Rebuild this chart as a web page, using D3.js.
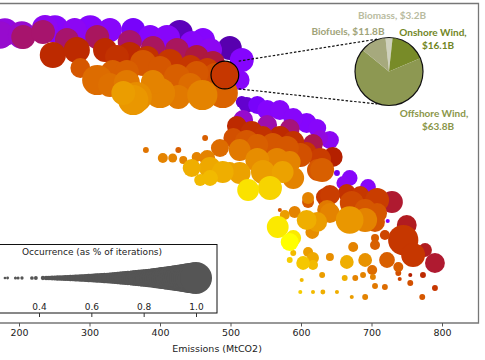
<!DOCTYPE html>
<html><head><meta charset="utf-8">
<script src="https://cdn.jsdelivr.net/npm/d3@7"></script>
<style>body{margin:0;background:#fff;} svg{display:block}</style>
</head><body><svg id="c" width="485" height="360"></svg>
<script>
// ---- data ----
const emissions = [173,180,204,237,251,279,301,329,206,234,268,311,248,282,322,339,287,311,333,348,
362,428,461,499,516,386,410,445,471,357,390,424,452,475,357,382,414,443,467,353,376,400,424,452,478,489,
353,367,400,426,460,390,362,443,516,523,538,552,570,589,608,623,627,518,552,584,617,509,530,546,570,589,
608,627,504,523,538,560,580,599,624,464,485,467,513,538,566,584,471,489,513,546,574,589,525,556,610,634,
380,426,404,418,433,452,445,457,471,499,570,567,577,645,630,651,669,660,695,641,729,641,665,684,708,672,
691,708,637,669,691,705,610,608,623,591,723,750,745,719,705,705,674,776,790,589,584,589,610,617,603,617,
584,641,665,691,701,702,722,759,738,738,755,773,755,740,790,772,630,662,677,688,601,631,651,617,599,672,
691,705,719,616,641,513,329];
const costIndex = [288,291,288,295,294,293,294,293,286,291,283,286,268,273,273,266,255,243,251,230,
293,290,283,275,263,286,285,280,273,281,275,273,266,260,268,265,261,256,253,251,260,255,246,250,248,230,
240,226,230,226,228,241,223,238,221,218,218,213,213,205,200,195,185,203,198,194,179,197,191,187,186,181,
171,164,185,181,178,178,175,168,153,185,175,165,173,163,163,161,155,151,150,151,151,145,133,135,121,126,
173,173,165,165,163,166,155,143,145,153,113,96,108,166,153,150,145,140,136,183,121,128,130,128,123,120,
113,110,113,103,103,101,125,103,101,111,102,98,83,88,85,78,76,73,60,85,81,70,71,65,60,58,
63,66,61,63,53,46,63,68,56,50,48,48,40,44,35,26,48,45,45,48,43,31,31,31,31,26,
26,37,36,91,110,243,238];
const occurrence = [.95,.95,.95,.93,.95,.90,.95,.90,.90,.90,.90,.90,.93,.93,.90,.90,.84,.98,.90,.90,
.90,.93,.90,.90,.90,.90,.93,.90,.90,.90,.90,.90,.90,.90,.93,.90,.93,.90,.90,.90,.93,.90,.93,.90,.90,.98,
.93,.98,.98,.90,.98,.90,.98,.90,.69,.77,.81,.84,.84,.84,.84,.81,.77,.84,.84,.84,.84,.84,.87,.84,.87,.87,
.84,.87,.84,.90,.87,.90,.90,.90,.87,.50,.81,.77,.87,.90,.90,.87,.87,.87,.87,.90,.87,.87,.87,.90,.69,.81,
.50,.50,.64,.61,.58,.64,.81,.69,.77,.77,.40,.87,.64,.84,.90,.50,.77,.73,.77,.81,.87,.84,.81,.81,.90,.90,
.87,.84,.84,.95,.90,.84,.69,.84,.84,.69,.40,.84,.98,.64,.58,.64,.64,.73,.84,.77,.81,.50,.64,.69,.73,.64,
.50,.58,.73,.73,.64,.50,.77,.90,.64,.50,.40,.50,.50,.40,.50,.50,.50,.50,.50,.50,.40,.45,.40,.40,.40,.40,
.50,.50,.50,.73,.84,.84,.90];
const colorValue = [.35,.33,.35,.30,.28,.30,.27,.28,.43,.43,.43,.44,.55,.55,.55,.58,.70,.75,.72,.85,
.22,.13,.27,.12,.27,.27,.28,.28,.30,.43,.44,.44,.46,.46,.55,.58,.60,.60,.62,.72,.70,.70,.72,.70,.68,.73,
.78,.82,.80,.78,.80,.80,.84,.75,.15,.15,.22,.27,.28,.28,.27,.28,.33,.35,.38,.42,.45,.55,.57,.58,.55,.58,
.60,.62,.68,.70,.72,.70,.70,.68,.70,.72,.75,.80,.78,.82,.80,.80,.87,.88,.86,.85,.86,.80,.96,.94,.70,.60,
.77,.72,.80,.80,.80,.80,.88,.90,.90,.86,.70,.97,.85,.50,.72,.20,.28,.30,.28,.30,.47,.62,.58,.60,.62,.66,
.70,.70,.78,.84,.80,.70,.80,.88,.85,.80,.25,.48,.60,.65,.72,.72,.80,.48,.47,.97,1.0,.90,.85,.87,.92,.90,
.93,.82,.88,.83,.75,.80,.72,.60,.72,.68,.50,.55,.68,.65,.60,.70,.85,.88,.80,.80,.90,.88,.88,.90,.93,.85,
.80,.78,.75,.82,.80,.28,.76];
const highlightPoint = {emissions: 492, cost: 248, occurrence: 0.95, color: 0.60};
const xTicks = [200,300,400,500,600,700,800];
const legendOcc = [0.27,0.28,0.31,0.32,0.335,0.373,0.388,0.415,0.427,0.435,0.442,
0.45,0.46,0.47,0.48,0.49,0.50,0.51,0.52,0.53,0.54,0.55,0.56,0.57,0.58,0.59,0.60,0.61,0.62,0.63,0.64,
0.65,0.66,0.67,0.68,0.69,0.70,0.71,0.72,0.73,0.74,0.75,0.76,0.77,0.78,0.79,0.80,0.81,0.82,0.83,0.84,
0.85,0.86,0.87,0.88,0.89,0.90,0.91,0.92,0.93,0.94,0.95,0.96,0.97,0.98,0.99,1.00];
const legendTicks = [0.4,0.6,0.8,1.0];
const pieNames = ["Biomass","Onshore Wind","Offshore Wind","Biofuels"];
const pieValues = [3.2,16.1,63.8,11.8];
const pieColors = ["#cfd1bd","#788b28","#8d9852","#a6a97d"];

// ---- setup ----
const svg = d3.select("#c");
const x = d3.scaleLinear().domain([200,800]).range([19,442]);
const y = d3.scaleLinear().domain([0,320]).range([323,3]);
const r = d3.scalePow().exponent(3).domain([0.2,1]).range([1.2,16]);
function gnuplot(t){
  const rr=Math.sqrt(t), g=t*t*t, b=Math.max(0,Math.sin(2*Math.PI*t));
  return d3.rgb(Math.round(rr*255),Math.round(g*255),Math.round(b*255)).toString();
}
const plotL=-60, plotR=478.5, plotT=3.5, plotB=323;
svg.append("defs").append("clipPath").attr("id","clip")
  .append("rect").attr("x",plotL).attr("y",plotT).attr("width",plotR-plotL).attr("height",plotB-plotT);

const pts = emissions.map((e,i)=>({e, c: costIndex[i], o: occurrence[i], v: colorValue[i]}))
  .sort((a,b)=>a.v-b.v);
const g = svg.append("g").attr("clip-path","url(#clip)");
g.selectAll("circle.pt").data(pts).join("circle").attr("class","pt")
  .attr("cx",d=>x(d.e)).attr("cy",d=>y(d.c)).attr("r",d=>r(d.o))
  .attr("fill",d=>gnuplot(d.v));

// highlight
const hx=x(highlightPoint.emissions), hy=y(highlightPoint.cost), hr=r(highlightPoint.occurrence);
g.append("circle").attr("cx",hx).attr("cy",hy).attr("r",hr)
  .attr("fill",gnuplot(highlightPoint.color)).attr("stroke","#000").attr("stroke-width",1.2);

// pie inset
const pcx=389, pcy=71.5, pr=34;
const pieGen = d3.pie().sort(null).startAngle(-6*Math.PI/180).endAngle(2*Math.PI-6*Math.PI/180);
const arcs = pieGen(pieValues);
const arc = d3.arc().innerRadius(0).outerRadius(pr);

// dashed connectors
const conn = [[hx+hr, hy-hr, pcx-11, pcy-32.5],[hx+hr, hy+hr, pcx-12, pcy+32.5]];
svg.selectAll("line.conn").data(conn).join("line").attr("class","conn")
  .attr("x1",d=>d[0]).attr("y1",d=>d[1]).attr("x2",d=>d[2]).attr("y2",d=>d[3])
  .attr("stroke","#111").attr("stroke-width",1.2).attr("stroke-dasharray","2.5,1.8");

const pg = svg.append("g").attr("transform",`translate(${pcx},${pcy})`);
pg.selectAll("path").data(arcs).join("path").attr("d",arc).attr("fill",(d,i)=>pieColors[i]);
pg.append("circle").attr("r",pr).attr("fill","none").attr("stroke","#111").attr("stroke-width",1.2);

const lblFont = "Lato, 'Open Sans', sans-serif";
const labels = [
  {t:"Biomass, $"+pieValues[0]+"B", x:392, y:19, c:"#b9bc9f"},
  {t:"Biofuels, $"+pieValues[3]+"B", x:348, y:35, c:"#a0a379"},
  {t:"Onshore Wind,", x:433, y:36, c:"#71861f"},
  {t:"$"+pieValues[1]+"B", x:438, y:49, c:"#71861f"},
  {t:"Offshore Wind,", x:434, y:117, c:"#8a9649"},
  {t:"$"+pieValues[2]+"B", x:438, y:130, c:"#8a9649"}
];
svg.selectAll("text.pl").data(labels).join("text").attr("class","pl")
  .attr("x",d=>d.x).attr("y",d=>d.y).attr("text-anchor","middle")
  .attr("font-family",lblFont).attr("font-weight","bold").attr("font-size","10px")
  .attr("fill",d=>d.c).text(d=>d.t);

// frame
svg.append("path").attr("d",`M${plotL},${plotT}H${plotR}V${plotB}H${plotL}`)
  .attr("fill","none").attr("stroke","#777").attr("stroke-width",1.3);

// x axis
const ax = svg.append("g").attr("transform",`translate(0,${plotB})`)
  .call(d3.axisBottom(x).tickValues(xTicks).tickSizeInner(3.5).tickSizeOuter(0).tickPadding(3));
ax.select(".domain").remove();
ax.selectAll(".tick line").attr("stroke","#555");
ax.selectAll("text").attr("font-family","'DejaVu Sans', sans-serif").attr("font-size","9.5px").attr("fill","#222");
svg.append("text").attr("x",217).attr("y",352).attr("text-anchor","middle")
  .attr("font-family","'DejaVu Sans', sans-serif").attr("font-size","9.5px").attr("fill","#222")
  .text("Emissions (MtCO2)");

// legend
const lx = d3.scaleLinear().domain([0.4,1.0]).range([39,196]);
const lg = svg.append("g");
lg.append("rect").attr("x",-20).attr("y",244.5).attr("width",237).attr("height",68.5)
  .attr("fill","#fff").attr("stroke","#111").attr("stroke-width",1);
lg.append("text").attr("x",92).attr("y",255).attr("text-anchor","middle")
  .attr("font-family","'DejaVu Sans', sans-serif").attr("font-size","9px").attr("fill","#222")
  .text("Occurrence (as % of iterations)");
lg.selectAll("circle").data(legendOcc).join("circle")
  .attr("cx",d=>lx(d)).attr("cy",278).attr("r",d=>r(d)).attr("fill","#555");
const lax = lg.append("g").attr("transform","translate(0,313)")
  .call(d3.axisBottom(lx).tickValues(legendTicks).tickFormat(d3.format(".1f")).tickSizeInner(4).tickSizeOuter(0));
lax.select(".domain").remove();
lax.selectAll(".tick line").attr("stroke","#333");
lax.selectAll("text").attr("y",-3).attr("dy","0").attr("font-family","'DejaVu Sans', sans-serif")
  .attr("font-size","9px").attr("fill","#222");
</script></body></html>
